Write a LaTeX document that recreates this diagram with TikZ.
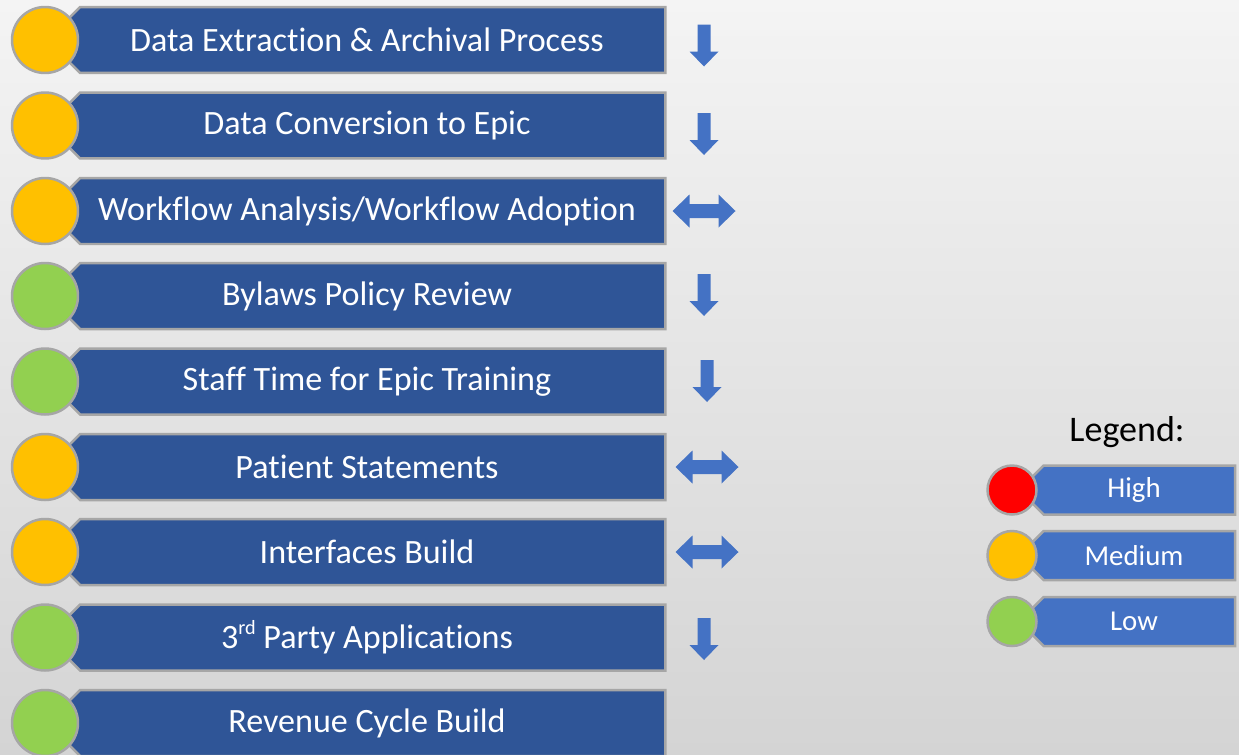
\documentclass[tikz,border=0pt]{standalone}
\usepackage{fontspec}
\setmainfont{Carlito}[Ligatures=NoCommon, RawFeature=-calt]
\usetikzlibrary{positioning, shapes.misc}

\definecolor{taskblue}{HTML}{2F5597}
\definecolor{keyblue}{HTML}{4472C4}
\definecolor{rimgray}{HTML}{A6A6A6}
\definecolor{riskhigh}{HTML}{FF0000}
\definecolor{riskmed}{HTML}{FFC000}
\definecolor{risklow}{HTML}{92D050}
\definecolor{bgtop}{HTML}{F4F4F4}
\definecolor{bgbottom}{HTML}{D4D4D4}

\tikzset{
  task/.style={chamfered rectangle, chamfered rectangle corners={north west, south west},
    chamfered rectangle xsep=0.12cm, fill=taskblue, draw=rimgray, line width=0.05cm,
    minimum width=11.94cm, minimum height=1.32cm, inner sep=0pt, text=white,
    font=\fontsize{19.4}{23}\selectfont},
  keytask/.style={task, fill=keyblue, chamfered rectangle xsep=0.1cm,
    minimum width=4.04cm, minimum height=0.98cm, font=\fontsize{16.4}{20}\selectfont},
  dot/.style={circle, draw=rimgray, line width=0.05cm, minimum size=1.32cm, inner sep=0pt},
  keydot/.style={dot, minimum size=0.98cm},
  fall/.pic={\fill[keyblue] (-6.5,-21) -- (6.5,-21) -- (6.5,6) -- (14.5,6) -- (0,21)
    -- (-14.5,6) -- (-6.5,6) -- cycle;},
  swap/.pic={\fill[keyblue] (-31.5,0) -- (-14.5,-16.5) -- (-14.5,-7) -- (14.5,-7)
    -- (14.5,-16.5) -- (31.5,0) -- (14.5,16.5) -- (14.5,7) -- (-14.5,7) -- (-14.5,16.5) -- cycle;},
}
\newcommand{\ordsup}[1]{\raisebox{0.42em}{\fontsize{11.5}{12}\selectfont #1}}

\begin{document}
\begin{tikzpicture}[x=0.02cm, y=-0.02cm]
\useasboundingbox (0,0) rectangle (1239,754);
\shade[top color=bgtop, bottom color=bgbottom] (0,0) rectangle (1239,754);

% work items
\node[task] (t1) at (367,40) {Data Extraction \& Archival Process};
\node[task] (t2) at (367,125.5) {Data Conversion to Epic};
\node[task] (t3) at (367,211) {Workflow Analysis/Workflow Adoption};
\node[task] (t4) at (367,296) {Bylaws Policy Review};
\node[task] (t5) at (367,381.5) {Staff Time for Epic Training};
\node[task] (t6) at (367,467) {Patient Statements};
\node[task] (t7) at (367,552) {Interfaces Build};
\node[task] (t8) at (367,637.5) {3\ordsup{rd} Party Applications};
\node[task] (t9) at (367,723) {Revenue Cycle Build};

% risk dots
\node[dot, fill=riskmed] (r1) at (45,40) {};
\node[dot, fill=riskmed] (r2) at (45,125.5) {};
\node[dot, fill=riskmed] (r3) at (45,211) {};
\node[dot, fill=risklow] (r4) at (45,296) {};
\node[dot, fill=risklow] (r5) at (45,381.5) {};
\node[dot, fill=riskmed] (r6) at (45,467) {};
\node[dot, fill=riskmed] (r7) at (45,552) {};
\node[dot, fill=risklow] (r8) at (45,637.5) {};
\node[dot, fill=risklow] (r9) at (45,723) {};

% trend arrows
\pic at (704,45.5) {fall};
\pic at (704,134) {fall};
\pic at (704,211) {swap};
\pic at (704,295) {fall};
\pic at (707,381) {fall};
\pic at (707,467) {swap};
\pic at (707,552) {swap};
\pic at (704,639) {fall};

% legend
\node[font=\fontsize{20.5}{24}\selectfont] (key) at (1127,432) {Legend:};
\node[keytask] (khigh) at (1134,490) {High};
\node[keytask] (kmed) at (1134,555.5) {Medium};
\node[keytask] (klow) at (1134,621.5) {Low};
\node[keydot, fill=riskhigh] (dhigh) at (1012,490) {};
\node[keydot, fill=riskmed] (dmed) at (1012,555.5) {};
\node[keydot, fill=risklow] (dlow) at (1012,621.5) {};
\end{tikzpicture}
\end{document}
